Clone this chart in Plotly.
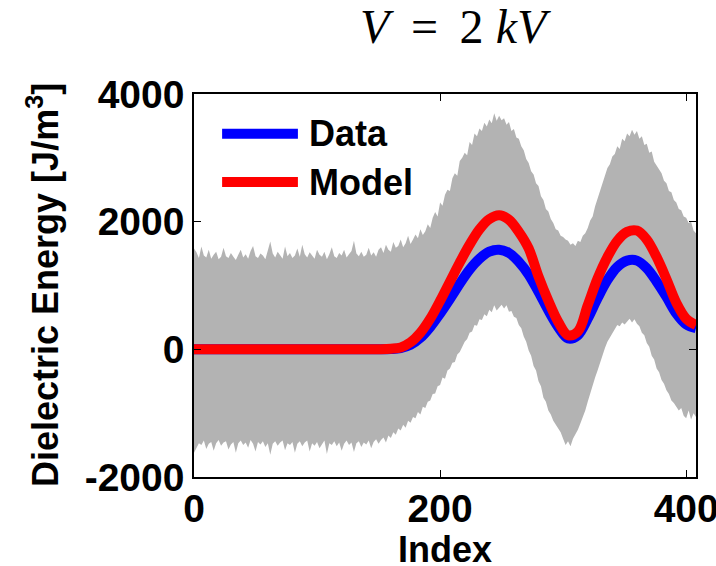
import plotly.graph_objects as go

# ---- smooth curves (sampled every 8 index units) ----
idx_curve = list(range(0, 409, 8))
data_energy = [0, 0, 0, 0, 0, 0, 0, 0, 0, 0, 0, 0, 0, 0, 0, 0, 0, 0, 0, 0,
               5, 20, 70, 180, 350, 560, 790, 1030, 1250, 1420, 1530, 1560,
               1510, 1370, 1170, 900, 610, 350, 170, 220, 480, 800, 1085,
               1290, 1390, 1390, 1270, 1060, 820, 560, 390, 330]
model_energy = [0, 0, 0, 0, 0, 0, 0, 0, 0, 0, 0, 0, 0, 0, 0, 0, 0, 0, 0, 2,
                10, 30, 110, 260, 480, 760, 1060, 1360, 1640, 1880, 2040, 2100,
                2030, 1840, 1580, 1140, 760, 430, 220, 280, 690, 1110, 1445,
                1700, 1840, 1860, 1720, 1445, 1100, 730, 480, 380]

# ---- noisy measurement envelope (sampled every 2 index units, 0..408) ----
band_upper = [
    1580, 1520, 1430, 1610, 1470, 1440, 1560, 1420, 1480, 1530,
    1410, 1450, 1590, 1460, 1430, 1510, 1450, 1400, 1480, 1560,
    1440, 1490, 1420, 1540, 1620, 1460, 1430, 1500, 1470, 1410,
    1550, 1690, 1500, 1440, 1530, 1480, 1420, 1610, 1460, 1510,
    1430, 1470, 1580, 1450, 1640, 1490, 1440, 1520, 1460, 1420,
    1560, 1480, 1450, 1530, 1410, 1490, 1600, 1460, 1430, 1510,
    1470, 1560, 1440, 1490, 1540, 1700, 1500, 1460, 1530, 1450,
    1480, 1590, 1470, 1520, 1450, 1560,
    1600, 1510, 1640, 1560, 1530, 1680, 1590, 1620, 1720, 1600,
    1660, 1780, 1650, 1720, 1800, 1740, 1880, 1790, 1850, 1960,
    1900, 2060, 2150, 2080, 2300, 2250, 2420, 2500, 2480, 2680,
    2760, 2720, 2950, 3000, 3080, 3040, 3250, 3200, 3380, 3340,
    3460, 3420, 3550, 3490, 3600, 3540, 3700, 3580, 3660, 3590,
    3620, 3520, 3560, 3420, 3450, 3320, 3300, 3180, 3120, 2980,
    2920, 2790, 2740, 2600, 2560, 2400, 2340, 2200, 2160, 2040,
    1980, 1880, 1860, 1780, 1760, 1720, 1700, 1640, 1660, 1620,
    1700, 1680, 1780, 1820, 1900, 2020, 2080, 2240, 2360, 2480,
    2600, 2720, 2840, 2900, 3020, 3060, 3180, 3140, 3300, 3260,
    3380, 3340, 3440, 3360, 3420, 3300, 3340, 3200, 3220, 3080,
    3100, 2940, 2880, 2800, 2760, 2640, 2600, 2480, 2460, 2340,
    2300, 2200, 2180, 2080, 2060, 1980, 2000, 1860, 1820,
]
band_lower = [
    -1620, -1540, -1470, -1500, -1430, -1560, -1480, -1450, -1590, -1470,
    -1420, -1510, -1460, -1440, -1570, -1490, -1450, -1620, -1470, -1430,
    -1500, -1460, -1540, -1420, -1480, -1600, -1450, -1490, -1440, -1530,
    -1470, -1650, -1480, -1440, -1510, -1460, -1430, -1580, -1470, -1500,
    -1450, -1620, -1480, -1440, -1520, -1460, -1430, -1600, -1470, -1510,
    -1450, -1550, -1480, -1430, -1640, -1470, -1500, -1440, -1520, -1460,
    -1590, -1480, -1430, -1500, -1460, -1610, -1470, -1440, -1530, -1460,
    -1490, -1430, -1550, -1450, -1410, -1480,
    -1420, -1380, -1460, -1350, -1390, -1300, -1340, -1240, -1270, -1180,
    -1230, -1120, -1150, -1060, -1080, -980, -1020, -900, -920, -820,
    -800, -700, -690, -580, -560, -440, -460, -330, -300, -210,
    -200, -80, -40, 40, 120, 160, 260, 280, 380, 370,
    470, 460, 550, 520, 620, 580, 690, 610, 650, 700,
    640, 690, 590, 600, 510, 490, 380, 330, 200, 120,
    -20, -100, -260, -330, -500, -580, -760, -820, -960, -1020,
    -1120, -1180, -1260, -1300, -1400, -1500, -1440, -1520, -1400, -1340,
    -1260, -1160, -1060, -960, -820, -680, -560, -440, -330, -200,
    -80, 20, 120, 180, 260, 300, 380, 360, 420, 390,
    430, 480, 420, 470, 400, 360, 260, 220, 100, 40,
    -100, -160, -300, -360, -480, -540, -640, -700, -800, -840,
    -900, -960, -920, -1040, -1080, -960, -1100, -1000, -1060,
]
idx_band = list(range(0, 2 * len(band_upper), 2))

x_ticks = [0, 200, 400]
y_ticks = [-2000, 0, 2000, 4000]

GRAY = "#b3b3b3"
BLUE = "#0000ff"
RED = "#ff0000"
FONT = "Liberation Sans"

fig = go.Figure()

fig.add_trace(go.Scatter(x=idx_band, y=band_lower, mode="lines",
                         line=dict(width=0, color=GRAY), hoverinfo="skip",
                         showlegend=False))
fig.add_trace(go.Scatter(x=idx_band, y=band_upper, mode="lines",
                         line=dict(width=0, color=GRAY), fill="tonexty",
                         fillcolor=GRAY, hoverinfo="skip", showlegend=False))
fig.add_trace(go.Scatter(x=idx_curve, y=data_energy, mode="lines", name="Data",
                         line=dict(color=BLUE, width=10, shape="spline"),
                         showlegend=False))
fig.add_trace(go.Scatter(x=idx_curve, y=model_energy, mode="lines", name="Model",
                         line=dict(color=RED, width=10, shape="spline"),
                         showlegend=False))

axis_common = dict(
    showgrid=False, zeroline=False, showline=True, linecolor="black",
    linewidth=1.5, mirror="ticks", ticks="inside", ticklen=7, tickwidth=1.2,
    tickcolor="black", automargin=False, ticklabeloverflow="allow",
    tickfont=dict(family=FONT, size=39, color="black", weight="bold"),
)

fig.update_xaxes(range=[0, 408], tickvals=x_ticks,
                 ticktext=[str(v) for v in x_ticks], ticklabelstandoff=-4,
                 **axis_common)
fig.update_yaxes(range=[-2000, 4000], tickvals=y_ticks,
                 ticktext=[str(v) for v in y_ticks], ticklabelstandoff=0,
                 **axis_common)

# legend drawn as line samples plus labels in the upper-left corner
legend_items = [("Data", BLUE, 0.896), ("Model", RED, 0.770)]
for label, color, ly in legend_items:
    fig.add_shape(type="line", xref="paper", yref="paper",
                  x0=0.056, x1=0.207, y0=ly, y1=ly,
                  line=dict(color=color, width=10))
    fig.add_annotation(text=label, xref="paper", yref="paper", x=0.225, y=ly,
                       xanchor="left", yanchor="middle", showarrow=False,
                       font=dict(family=FONT, size=36, color="black",
                                 weight="bold"))

# title and axis labels
fig.add_annotation(text="<i>V</i>\u2009 = \u20092 <i>kV</i>", xref="paper",
                   yref="paper", x=0.52, y=1.175, xanchor="center",
                   yanchor="middle", showarrow=False,
                   font=dict(family="Liberation Serif", size=48, color="black"))
fig.add_annotation(text="Index", xref="paper", yref="paper", x=0.5, y=-0.19,
                   xanchor="center", yanchor="middle", showarrow=False,
                   font=dict(family=FONT, size=36, color="black", weight="bold"))
fig.add_annotation(text="Dielectric Energy [J/m<sup>3</sup>]", xref="paper",
                   yref="paper", x=-0.301, y=0.501, xanchor="center",
                   yanchor="middle", textangle=-90, showarrow=False,
                   font=dict(family=FONT, size=36, color="black", weight="bold"))

fig.update_layout(
    width=716, height=566,
    margin=dict(l=194, r=20, t=94, b=89),
    paper_bgcolor="white", plot_bgcolor="white",
    showlegend=False,
)

fig.write_html("out.html")
